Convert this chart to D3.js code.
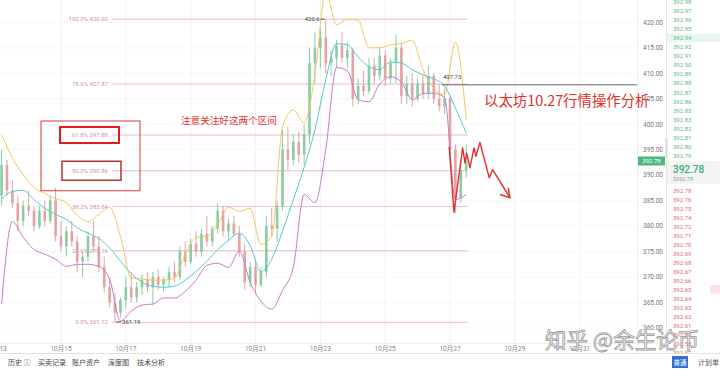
<!DOCTYPE html>
<html>
<head>
<meta charset="utf-8">
<script src="https://cdn.jsdelivr.net/npm/d3@7"></script>
<style>
  html, body { margin: 0; padding: 0; background: #fff; }
  svg { display: block; font-family: Roboto, "Noto Sans CJK SC", sans-serif; }
</style>
</head>
<body>
<svg id="chart" width="720" height="370"></svg>
<script>
// 4h candles, ETH/USDT, from 2020-10-13 04:00 UTC
const candleStart = Date.UTC(2020, 9, 13, 4)
const candleHours = 4
// [open, high, low, close]
const candles = [
  [386, 395, 384, 392], [392, 393, 386, 387], [387, 389, 383.5, 384.5], [384.5, 386, 379, 381],
  [381, 385, 380, 384], [384, 387, 382, 383], [383, 384, 379, 380], [380, 384, 379.5, 383],
  [383, 385, 380, 381], [381, 386, 380.5, 385], [385, 387.5, 377, 378], [378, 381, 375, 376],
  [376, 380, 374, 379], [379, 381, 376, 377], [377, 378, 371, 373], [373, 375, 370, 374],
  [374, 379, 373, 378], [378, 381, 375, 376], [376, 378, 371, 372], [372, 374, 367, 368],
  [368, 370, 364, 365], [365, 367, 361.19, 363], [363, 366, 362, 365.5], [365.5, 370, 364, 368],
  [368, 371, 365, 366], [366, 369, 365, 368], [368, 370.5, 366.5, 369.5], [369.5, 371, 367, 368],
  [368, 371, 364.5, 370], [370, 371.5, 367.5, 368.5], [368.5, 370, 367, 369.5], [369.5, 372, 368, 371],
  [371, 373, 369, 370], [370, 376, 369.5, 375], [375, 377, 372, 373], [373, 377.5, 372.5, 376.5],
  [376.5, 379, 374, 375], [375, 379.5, 374, 378.5], [378.5, 382, 376, 377], [377, 380, 376, 379.5],
  [379.5, 384.5, 378.5, 383], [383, 384, 378, 379], [379, 381.5, 377, 380.5], [380.5, 382, 378, 378.5],
  [378.5, 380, 374, 375], [375, 376.5, 367.5, 369], [369, 373, 368, 372], [372, 373.5, 367, 368.5],
  [368.5, 372, 368, 371], [371, 382, 370, 380], [380, 383.5, 378, 379.5], [379.5, 385, 377, 384],
  [384, 399, 383, 395], [395, 399.5, 391, 393], [393, 398, 392, 396.5], [396.5, 398.5, 392.5, 394],
  [394, 400, 392, 398], [398, 415, 396, 412], [412, 418, 408, 415], [415, 419, 411, 417],
  [417, 420.6, 410, 412], [412, 414.5, 409.5, 413], [413, 416.5, 411, 415.5], [415.5, 418, 412, 413],
  [413, 416, 411, 414.5], [414.5, 415, 403.5, 405], [405, 409, 404, 407.5], [407.5, 410.5, 405.5, 406.5],
  [406.5, 413, 406, 411.5], [411.5, 413, 408, 409.5], [409.5, 415, 408.5, 413.5], [413.5, 414.5, 407.5, 409],
  [409, 413, 408, 412], [412, 417.5, 408, 415], [415, 416, 404, 405.5], [405.5, 409.5, 404, 408],
  [408, 410, 403.5, 405], [405, 409, 404.5, 408], [408, 409.5, 405, 406], [406, 411.5, 405, 409.5],
  [409.5, 410, 404, 405], [405, 408, 402.5, 403.5], [403.5, 407, 402, 405], [405, 405.5, 393, 395],
  [395, 396, 382.5, 385.5], [385.5, 393, 384.5, 391], [391, 396, 389.5, 392.78]
]

// band values every 8h from candleStart
const bandHours = 8
const upperBand = [398, 393.4, 390.1, 387.6, 386.4, 385.4, 384.6, 382.1, 380.9, 382.3, 383.7, 378,
  369.8, 369.6, 369.4, 369.4, 369.8, 374.5, 377.8, 378.0, 380.3, 383.7, 382.9, 383.5, 376.4, 378,
  399.5, 402.8, 400.3, 409.7, 426, 419.5, 420.6, 420.4, 415.0, 415.0, 415.6, 415.8, 416.5, 410.7,
  407.1, 405.8, 416.1, 400.9]
const middleBand = [385.3, 386.8, 387.0, 385.2, 383.5, 382.3, 381.3, 379.7, 378.6, 377.6, 375.7, 373.1,
  370.7, 369.0, 368.2, 368.0, 368.2, 369.4, 371.1, 373.1, 375.4, 377.2, 378.6, 376.2, 371.1, 373.5,
  379.0, 385.2, 391.5, 398.9, 408.7, 415.8, 415.6, 413.2, 411.3, 410.7, 412.2, 412.0, 410.7, 409.7,
  408.9, 407.5, 403.2, 398.3]
const lowerBand = [364.7, 380.9, 377.8, 375.4, 374.5, 373.5, 372.1, 372.5, 372.5, 372.1, 369.6, 361.4,
  363.3, 364.5, 364.7, 365.9, 365.9, 367.2, 369.4, 372.3, 372.7, 371.9, 375.1, 369.0, 365.3, 363.7,
  367.4, 371.9, 386.2, 384.6, 395.0, 411.1, 410.5, 404.8, 404.4, 407.9, 409.3, 408.3, 404.8, 406.0,
  406.1, 405.2, 385.2, 386.2]

const fibRatios = ['100.0%', '78.6%', '61.8%', '50.0%', '38.2%', '23.6%', '0.0%']
const fibPrices = [420.60, 407.87, 397.88, 390.86, 383.84, 375.16, 361.12]
const fibSpanDays = [1.57, 12.55] // days after 10-15

const priceTicks = [360, 365, 370, 375, 380, 385, 390, 395, 400, 405, 410, 415, 420]
const dateTickDays = [13, 15, 17, 19, 21, 23, 25, 27, 29, 31]

const lastPrice = 392.78
const rayPrice = 407.73
const rayStartDay = 11.75

const asks = ['392.98', '392.97', '392.96', '392.95', '392.94', '392.92', '392.91', '392.90', '392.89',
  '392.88', '392.87', '392.86', '392.85', '392.83', '392.82', '392.81', '392.80', '392.79']
const bids = ['392.78', '392.76', '392.75', '392.74', '392.72', '392.71', '392.70', '392.69', '392.68',
  '392.67', '392.66', '392.65', '392.64', '392.63', '392.62', '392.61', '392.60', '392.58', '392.57']

// hand drawn zigzag: [days after 10-15, price]
const zigzag = [[11.977, 395.54], [12.122, 382.74], [12.390, 395.34], [12.461, 392.41], [12.514, 394.36],
  [12.616, 391.43], [12.739, 395.34], [12.801, 393.70], [12.924, 396.44], [13.211, 389.47],
  [13.316, 391.10], [13.849, 385.56]]
const arrowHead = [[13.541, 386.20], [13.849, 385.56], [13.797, 387.51]]

const tabs = ['历史 ⓘ', '买卖记录', '账户资产', '深度图', '技术分析']
const tabX = [8, 38, 72, 108, 137]

// ---------------------------------------------------------------
const svg = d3.select('#chart')
const plotW = 637, plotH = 340
const day0 = Date.UTC(2020, 9, 15)
const DAY = 864e5

const x = d3.scaleUtc()
  .domain([new Date(day0), new Date(Date.UTC(2020, 9, 27))])
  .range([61, 450])
const y = d3.scaleLinear().domain([360, 420]).range([328, 22.3])
const dayX = d => x(new Date(day0 + d * DAY))

svg.append('defs').append('clipPath').attr('id', 'plot')
  .append('rect').attr('width', plotW).attr('height', plotH)

// grid
const grid = svg.append('g')
grid.selectAll('line.v').data(dateTickDays).join('line')
  .attr('x1', d => x(new Date(Date.UTC(2020, 9, d)))).attr('x2', d => x(new Date(Date.UTC(2020, 9, d))))
  .attr('y1', 0).attr('y2', plotH + 3)
  .attr('stroke', '#f1f1f1')
grid.selectAll('line.h').data(priceTicks).join('line')
  .attr('x1', 0).attr('x2', plotW)
  .attr('y1', d => y(d)).attr('y2', d => y(d))
  .attr('stroke', '#f7f7f7')
svg.append('line').attr('x1', plotW + 0.5).attr('x2', plotW + 0.5).attr('y1', 0).attr('y2', 353)
  .attr('stroke', '#eeeeee')
svg.append('line').attr('x1', 0).attr('x2', 666).attr('y1', 343.5).attr('y2', 343.5)
  .attr('stroke', '#eeeeee')

// fibonacci
const fib = svg.append('g')
fib.selectAll('line').data(fibPrices).join('line')
  .attr('x1', dayX(fibSpanDays[0])).attr('x2', dayX(fibSpanDays[1]))
  .attr('y1', d => y(d)).attr('y2', d => y(d))
  .attr('stroke', '#e8bdd2')
fib.selectAll('text').data(fibPrices).join('text')
  .attr('x', 108).attr('y', d => y(d) + 2)
  .attr('text-anchor', 'end').attr('font-size', 6).attr('fill', '#d38db6')
  .text((d, i) => `${fibRatios[i]} ${d.toFixed(2)}`)

// candles
const plot = svg.append('g').attr('clip-path', 'url(#plot)')
const cx = i => x(new Date(candleStart + i * candleHours * 36e5))
const up = '#7ec79b', down = '#e29a9a'
const cg = plot.append('g').attr('opacity', 0.9)
cg.selectAll('line').data(candles).join('line')
  .attr('x1', (d, i) => cx(i)).attr('x2', (d, i) => cx(i))
  .attr('y1', d => y(d[1])).attr('y2', d => y(d[2]))
  .attr('stroke', d => d[3] >= d[0] ? up : down).attr('stroke-width', 1)
cg.selectAll('rect').data(candles).join('rect')
  .attr('x', (d, i) => cx(i) - 1.3).attr('width', 2.6)
  .attr('y', d => y(Math.max(d[0], d[3])))
  .attr('height', d => Math.max(1, Math.abs(y(d[0]) - y(d[3]))))
  .attr('fill', d => d[3] >= d[0] ? up : down)

// bands
const bx = j => x(new Date(candleStart + j * bandHours * 36e5))
const bandLine = d3.line().x((d, j) => bx(j)).y(d => y(d)).curve(d3.curveMonotoneX)
;[[upperBand, '#f4c760'], [middleBand, '#56c7cf'], [lowerBand, '#c97ac9']].forEach(([b, c]) => {
  plot.append('path').attr('d', bandLine(b)).attr('fill', 'none').attr('stroke', c).attr('stroke-width', 1)
})

// high / low markers
const hiIdx = d3.maxIndex(candles, d => d[1])
const loIdx = d3.minIndex(candles, d => d[2])
const hx = cx(hiIdx), hy = y(candles[hiIdx][1])
svg.append('line').attr('x1', hx - 5).attr('x2', hx - 1).attr('y1', hy).attr('y2', hy).attr('stroke', '#555')
svg.append('text').attr('x', hx - 6).attr('y', hy + 2).attr('text-anchor', 'end')
  .attr('font-size', 6).attr('fill', '#444').text(candles[hiIdx][1])
const lx = cx(loIdx), ly = y(candles[loIdx][2])
svg.append('line').attr('x1', lx + 1).attr('x2', lx + 6).attr('y1', ly).attr('y2', ly).attr('stroke', '#555')
svg.append('text').attr('x', lx + 7).attr('y', ly + 2)
  .attr('font-size', 6).attr('fill', '#444').text(candles[loIdx][2])

// horizontal ray
svg.append('line').attr('x1', dayX(rayStartDay)).attr('x2', plotW)
  .attr('y1', y(rayPrice)).attr('y2', y(rayPrice)).attr('stroke', '#666').attr('stroke-width', 1)
svg.append('text').attr('x', dayX(rayStartDay) + 1).attr('y', y(rayPrice) - 6)
  .attr('font-size', 6).attr('fill', '#444').text(rayPrice.toFixed(2))

// price axis
svg.append('g').selectAll('text').data(priceTicks).join('text')
  .attr('x', 643).attr('y', d => y(d) + 2.3)
  .attr('font-size', 6.5).attr('fill', '#777')
  .text(d => d.toFixed(2))

// date axis
svg.append('g').selectAll('text').data(dateTickDays).join('text')
  .attr('x', d => x(new Date(Date.UTC(2020, 9, d)))).attr('y', 350.5)
  .attr('text-anchor', 'middle').attr('font-size', 6.5).attr('fill', '#888')
  .text(d => `10月${d}`)

// last price tag
svg.append('rect').attr('x', 638).attr('y', y(lastPrice) - 4.5).attr('width', 27).attr('height', 9)
  .attr('fill', '#4cb783')
svg.append('text').attr('x', 651.5).attr('y', y(lastPrice) + 2.2).attr('text-anchor', 'middle')
  .attr('font-size', 6).attr('fill', '#fff').text(lastPrice.toFixed(2))

// order book
const ob = svg.append('g')
ob.append('line').attr('x1', 666.5).attr('x2', 666.5).attr('y1', 0).attr('y2', 353).attr('stroke', '#e6e6e6')
ob.append('rect').attr('x', 665.5).attr('y', 138).attr('width', 2).attr('height', 20).attr('fill', '#d8d8d8')
ob.append('rect').attr('x', 667).attr('y', 33.5).attr('width', 53).attr('height', 8.5).attr('fill', '#e9f6ef')
ob.append('rect').attr('x', 667).attr('y', 161).attr('width', 53).attr('height', 23).attr('fill', '#f4f4f4')
ob.append('rect').attr('x', 710).attr('y', 285).attr('width', 10).attr('height', 8.5).attr('fill', '#fde4e4')
ob.selectAll('text.a').data(asks).join('text')
  .attr('x', 673).attr('y', (d, i) => 4 + i * 9.05)
  .attr('font-size', 6).attr('fill', '#5bb98a').text(d => d)
ob.selectAll('text.b').data(bids).join('text').attr('class', 'b')
  .attr('x', 673).attr('y', (d, i) => 192.5 + i * 9.0)
  .attr('font-size', 6).attr('fill', '#e26d6d').text(d => d)
ob.append('text').attr('x', 673).attr('y', 172.5).attr('font-size', 10).attr('font-weight', 500)
  .attr('fill', '#3aaa74').text(lastPrice.toFixed(2))
ob.append('text').attr('x', 673).attr('y', 180.5).attr('font-size', 5.5)
  .attr('fill', '#999').text('$' + lastPrice.toFixed(2))

// bottom bar
const bar = svg.append('g')
bar.append('rect').attr('x', 0).attr('y', 354).attr('width', 720).attr('height', 16).attr('fill', '#fff')
bar.append('line').attr('x1', 0).attr('x2', 720).attr('y1', 353.5).attr('y2', 353.5).attr('stroke', '#e2e2e2')
bar.selectAll('text').data(tabs).join('text')
  .attr('x', (d, i) => tabX[i]).attr('y', 364.5)
  .attr('font-family', '"Noto Sans CJK SC", sans-serif')
  .attr('font-size', 7).attr('fill', '#444').text(d => d)
bar.append('rect').attr('x', 672).attr('y', 356).attr('width', 16).attr('height', 12).attr('fill', '#2f6fd6')
bar.append('text').attr('x', 680).attr('y', 364.5).attr('text-anchor', 'middle')
  .attr('font-family', '"Noto Sans CJK SC", sans-serif')
  .attr('font-size', 6.5).attr('fill', '#fff').text('普通')
bar.append('text').attr('x', 698).attr('y', 364.5)
  .attr('font-family', '"Noto Sans CJK SC", sans-serif')
  .attr('font-size', 7).attr('fill', '#555').text('计划单')

// annotations
const red = '#e0302c'
const ann = svg.append('g').attr('font-family', '"Noto Sans CJK SC", sans-serif')
const yA = y(fibPrices[2]), yB = y(fibPrices[3])
ann.append('rect').attr('x', 41).attr('y', yA - 14).attr('width', 99).attr('height', yB - yA + 34)
  .attr('fill', 'none').attr('stroke', '#d23c3c').attr('stroke-width', 1)
ann.append('rect').attr('x', 60).attr('y', yA - 8).attr('width', 59).attr('height', 16)
  .attr('fill', 'none').attr('stroke', '#e31d1d').attr('stroke-width', 2)
ann.append('rect').attr('x', 62).attr('y', yB - 9.5).attr('width', 59).attr('height', 19)
  .attr('fill', 'none').attr('stroke', '#b53333').attr('stroke-width', 1.5)
ann.append('text').attr('x', 181).attr('y', 123.5).attr('font-size', 9.6).attr('fill', red)
  .text('注意关注好这两个区间')
ann.append('text').attr('x', 484).attr('y', 105.5).attr('font-size', 14.4).attr('fill', red)
  .text('以太坊10.27行情操作分析')
const zz = d3.line().x(d => dayX(d[0])).y(d => y(d[1]))
ann.append('path').attr('d', zz(zigzag)).attr('fill', 'none').attr('stroke', red)
  .attr('stroke-width', 1.4).attr('stroke-linejoin', 'round')
ann.append('path').attr('d', zz(arrowHead)).attr('fill', 'none').attr('stroke', red)
  .attr('stroke-width', 1.4)

// watermark
svg.append('text').attr('x', 545).attr('y', 348)
  .attr('font-family', '"Noto Sans CJK SC", sans-serif')
  .attr('font-size', 21.5).attr('fill', 'rgba(255,255,255,0.55)')
  .attr('stroke', '#9a9a9a').attr('stroke-width', 0.8)
  .text('知乎 @余生论币')
</script>
</body>
</html>
